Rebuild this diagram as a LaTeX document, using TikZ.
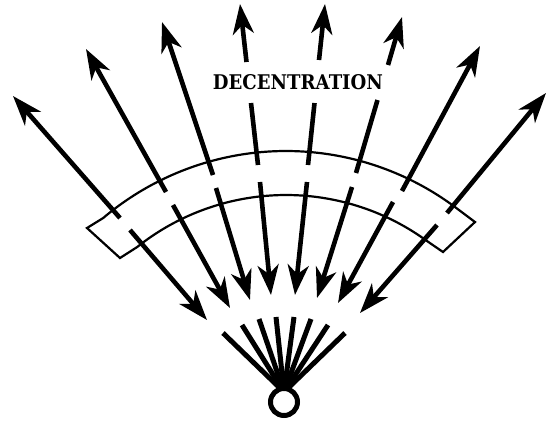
\documentclass[tikz,border=0pt]{standalone}
\usepackage{fontspec}
\usepackage{graphicx}
\newfontfamily\slabfont{DejaVu Serif}
\usetikzlibrary{arrows.meta,calc}
\begin{document}
\begin{tikzpicture}[x=1pt,y=-1pt,
  arr/.style={line width=4.6pt,-{Stealth[length=30pt,width=21pt,inset=9pt]}},
  seg/.style={line width=4.6pt},
  band/.style={line width=2.2pt,line join=miter},
  ray/.style={line width=5pt},
  ring/.style={line width=5pt,fill=white},
  lbl/.style={inner sep=0pt,font=\slabfont\bfseries}]
\useasboundingbox (0,0) rectangle (546,421);
% band (two arcs with rectangular end caps)
\coordinate (P1) at ({286+283*cos(130.27)},{434-283*sin(130.27)});
\coordinate (P2) at (87,228);
\coordinate (P3) at (120,258);
\coordinate (P4) at ({286+239*cos(128.55)},{434-239*sin(128.55)});
\coordinate (Q4) at ({286+239*cos(53.8)},{434-239*sin(53.8)});
\coordinate (Q3) at (443,252);
\coordinate (Q2) at (475,222);
\coordinate (Q1) at ({286+283*cos(52.73)},{434-283*sin(52.73)});
\draw[band] (P1) -- (P2) -- (P3) -- (P4)
  -- plot[domain=128.55:53.8,samples=80] ({286+239*cos(\x)},{434-239*sin(\x)})
  -- (Q3) -- (Q2) -- (Q1)
  -- plot[domain=52.73:130.27,samples=80] ({286+283*cos(\x)},{434-283*sin(\x)})
  -- cycle;
% outward arrows
\coordinate (o1) at (120,218); \coordinate (t1) at (13,96);
\coordinate (o2) at (166,192); \coordinate (t2) at (86,49);
\coordinate (o3) at (213,175); \coordinate (t3) at (162,22);
\coordinate (o4) at (258,165); \coordinate (t4) at (240,4);
\coordinate (o5) at (308,165); \coordinate (t5) at (325,4);
\coordinate (o6) at (356,173); \coordinate (t6) at (402,17);
\coordinate (o7) at (402,191); \coordinate (t7) at (480,46);
\coordinate (o8) at (447,213); \coordinate (t8) at (546,93);
\coordinate (g4a) at (251,103); \coordinate (g4b) at (246.5,62);
\coordinate (g5a) at (314.5,103); \coordinate (g5b) at (319,60);
\coordinate (g6a) at (377.5,100); \coordinate (g6b) at (388,65);
\draw[arr] (o1) -- (t1);
\draw[arr] (o2) -- (t2);
\draw[arr] (o3) -- (t3);
\draw[seg] (o4) -- (g4a); \draw[arr] (g4b) -- (t4);
\draw[seg] (o5) -- (g5a); \draw[arr] (g5b) -- (t5);
\draw[seg] (o6) -- (g6a); \draw[arr] (g6b) -- (t6);
\draw[arr] (o7) -- (t7);
\draw[arr] (o8) -- (t8);
% inward arrows
\coordinate (i1) at (130,230); \coordinate (j1) at (207,320);
\coordinate (i2) at (173,205); \coordinate (j2) at (230,308);
\coordinate (i3) at (216,188); \coordinate (j3) at (250,300);
\coordinate (i4) at (260,182); \coordinate (j4) at (271,295);
\coordinate (i5) at (307,182); \coordinate (j5) at (295,295);
\coordinate (i6) at (352,187); \coordinate (j6) at (317,298);
\coordinate (i7) at (393,202); \coordinate (j7) at (338,303);
\coordinate (i8) at (437,225); \coordinate (j8) at (360,313);
\foreach \k in {1,...,8} { \draw[arr] (i\k) -- (j\k); }
% label
\node[lbl] (title) at (298,82.5) {\resizebox{170pt}{15pt}{DECENTRATION}};
% central fan and circle
\coordinate (F) at (284,392);
\coordinate (u1) at (223,333); \coordinate (u2) at (242,325);
\coordinate (u3) at (259,319); \coordinate (u4) at (276,317);
\coordinate (u5) at (294,317); \coordinate (u6) at (311,319);
\coordinate (u7) at (328,325); \coordinate (u8) at (345,333);
\foreach \k in {1,...,8} { \draw[ray] (u\k) -- (F); }
\node[circle,draw,ring,minimum size=27pt,inner sep=0pt] (eye) at (284,402) {};
\end{tikzpicture}
\end{document}
